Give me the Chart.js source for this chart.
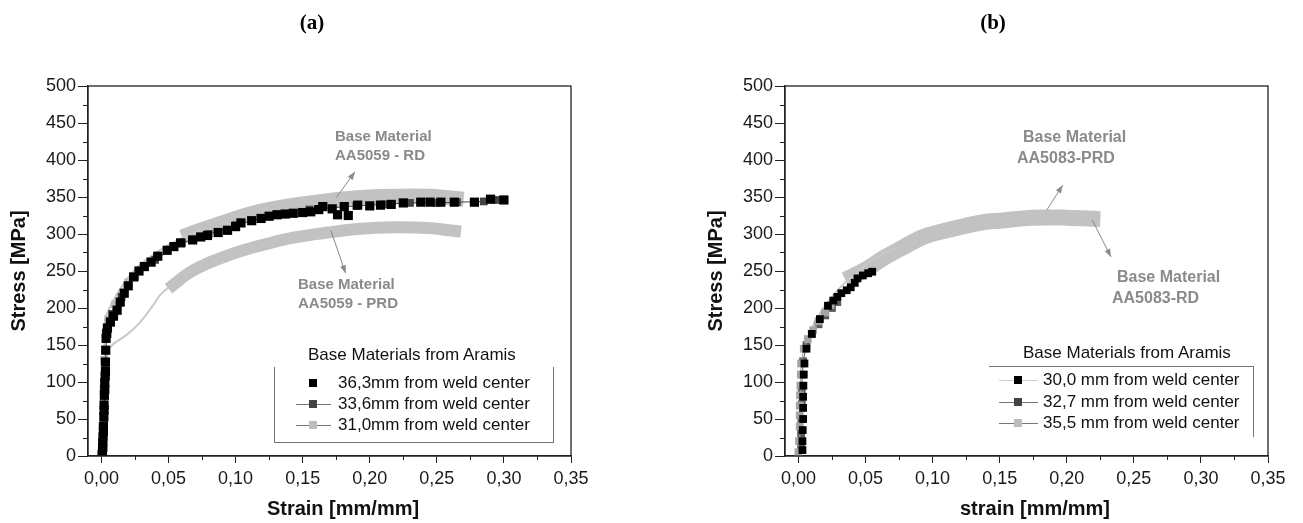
<!DOCTYPE html>
<html>
<head>
<meta charset="utf-8">
<script src="https://cdn.jsdelivr.net/npm/chart.js@4.4.1/dist/chart.umd.min.js"></script>
<style>
  body { margin: 0; background: #fff; width: 1303px; height: 523px; position: relative; overflow: hidden;
         font-family: "Liberation Sans", Arial, sans-serif; }
  canvas { position: absolute; top: 0; }
  .abs { position: absolute; white-space: nowrap; }
  .ptitle { font-family: "Liberation Serif", "Times New Roman", serif; font-weight: bold; font-size: 21px; line-height: 24px; transform: translateX(-50%); }
  .xtitle { font-weight: bold; font-size: 20px; line-height: 24px; color: #111; transform: translateX(-50%); }
  .note { font-weight: bold; color: #8a8a8a; }
  .leg { font-size: 17px; line-height: 20px; color: #111; }
</style>
</head>
<body>
<canvas id="chartA" width="606" height="523" style="left:0px"></canvas>
<canvas id="chartB" width="606" height="523" style="left:697px"></canvas>

<script>
// axis ticks (shared by both panels)
const xTicks = [0, 0.05, 0.10, 0.15, 0.20, 0.25, 0.30, 0.35];
const xMinor = [0.025, 0.075, 0.125, 0.175, 0.225, 0.275, 0.325];
const yTicks = [0, 50, 100, 150, 200, 250, 300, 350, 400, 450, 500];
const yMinor = [25, 75, 125, 175, 225, 275, 325, 375, 425, 475];

// ---- panel (a) : AA5059 ----
const a_363 = [[0.0005,2],[0.0008,6],[0.001,12],[0.001,18],[0.0012,26],[0.0015,33],[0.0015,40],[0.0018,53],
  [0.002,62],[0.002,69],[0.0022,82],[0.0025,90],[0.0025,99],[0.0028,108],[0.003,114],[0.003,127],[0.0032,143],
  [0.0035,159],[0.004,166],[0.0045,173],[0.0067,181],[0.009,189],[0.0117,197],[0.014,208],[0.017,220],[0.020,230],
  [0.024,242],[0.028,250],[0.032,256],[0.037,262],[0.042,270],[0.049,278],[0.054,283],[0.059,288],[0.068,292],
  [0.074,296],[0.079,298],[0.087,302],[0.094,305],[0.100,310],[0.104,315],[0.112,318],[0.119,321],[0.125,324],
  [0.131,326],[0.137,327],[0.143,328],[0.150,329],[0.156,330],[0.162,333],[0.165,337],[0.172,334],[0.176,326],
  [0.181,337],[0.184,325],[0.191,339],[0.200,338],[0.208,339],[0.216,340],[0.225,342],[0.238,343],[0.245,343],
  [0.253,343],[0.263,343],[0.278,343],[0.290,347],[0.300,346]];
const a_336 = [[0.001,0],[0.002,50],[0.003,120],[0.004,170],[0.008,192],[0.015,215],[0.025,242],[0.040,265],
  [0.060,288],[0.080,300],[0.100,312],[0.130,326],[0.155,333],[0.190,338],[0.210,340],[0.230,342],[0.250,342],
  [0.265,343],[0.285,344],[0.295,346]];
const a_310 = [[0.0005,0],[0.001,40],[0.0015,90],[0.002,130],[0.003,165],[0.005,185],[0.010,205],[0.020,235]];
const a_rdBand = [[0.060,296],[0.075,306],[0.090,315],[0.105,324],[0.119,331],[0.140,338],[0.169,345],
  [0.190,349],[0.218,351],[0.245,351],[0.270,347]];
const a_rdLine = [[0.002,150],[0.003,185],[0.006,200],[0.012,220],[0.024,250],[0.037,270],[0.050,285],
  [0.064,298],[0.075,306]];
const a_prdBand = [[0.050,226],[0.057,236],[0.064,246],[0.074,256],[0.084,264],[0.104,277],[0.124,287],
  [0.143,295],[0.169,302],[0.193,307],[0.218,309],[0.243,308],[0.268,303]];
const a_prdLine = [[0.004,125],[0.005,140],[0.008,150],[0.019,164],[0.029,181],[0.039,205],[0.044,218],[0.050,228]];
const a_arrows = [[0.175,349,0.189,384],[0.171,305,0.182,247]];
const a_labels = ['36,3mm from weld center', '33,6mm from weld center', '31,0mm from weld center'];

// ---- panel (b) : AA5083 ----
const b_300 = [[0.003,8],[0.003,20],[0.0032,35],[0.0035,50],[0.0035,65],[0.0035,80],[0.0037,95],[0.004,110],
  [0.0045,125],[0.006,145],[0.010,165],[0.016,185],[0.022,203],[0.026,210],[0.029,215],[0.032,220],[0.036,224],
  [0.039,228],[0.042,234],[0.044,240],[0.048,244],[0.052,247],[0.055,249]];
const b_327 = [[0.002,10],[0.002,30],[0.0022,50],[0.0025,70],[0.0025,90],[0.003,110],[0.0035,128],[0.006,150],
  [0.010,165],[0.015,178],[0.020,190],[0.025,200],[0.029,208]];
const b_355 = [[0.0,5],[0.0005,20],[0.001,40],[0.001,55],[0.001,68],[0.0012,82],[0.0015,95],[0.0018,110],
  [0.002,125],[0.004,145],[0.007,158],[0.011,170],[0.015,182],[0.020,194],[0.024,204]];
const b_band = [[0.035,238],[0.045,247],[0.052,254],[0.064,268],[0.076,280],[0.093,296],[0.113,306],
  [0.138,316],[0.150,318],[0.175,322],[0.200,322],[0.225,320]];
const b_line = [[0.008,165],[0.015,190],[0.025,215],[0.035,235],[0.045,250],[0.052,261],[0.064,274],[0.075,282]];
const b_arrows = [[0.185,332,0.197,366],[0.219,319,0.233,269]];
const b_labels = ['30,0 mm from weld center', '32,7 mm from weld center', '35,5 mm from weld center'];

const seriesColors = ['#000000', '#444444', '#bdbdbd'];
const FONT = '"Liberation Sans", Arial, sans-serif';

function pts(arr) { return arr.map(p => ({ x: p[0], y: p[1] })); }

function squares(label, data, color, r, line) {
  return { label, data: pts(data), showLine: line, borderColor: color, borderWidth: 1,
    backgroundColor: color, pointBackgroundColor: color, pointBorderColor: color, pointBorderWidth: 0,
    pointStyle: 'rect', pointRadius: r, pointHoverRadius: r };
}
function band(data, w, color) {
  return { label: '', data: pts(data), showLine: true, borderColor: color, borderWidth: w, pointRadius: 0,
    tension: 0.4, borderCapStyle: 'butt', borderJoinStyle: 'round', fill: false };
}

// box round the plot, minor ticks, annotation arrows
const extras = {
  id: 'extras',
  afterDraw(chart, args, opts) {
    const { ctx, chartArea: a, scales: { x, y } } = chart;
    ctx.save();
    ctx.strokeStyle = '#222';
    ctx.lineWidth = 1.3;
    ctx.strokeRect(a.left, a.top, a.right - a.left, a.bottom - a.top);
    ctx.lineWidth = 1;
    ctx.beginPath();
    xMinor.forEach(v => { const p = Math.round(x.getPixelForValue(v)) + 0.5; ctx.moveTo(p, a.bottom); ctx.lineTo(p, a.bottom + 4); });
    yMinor.forEach(v => { const p = Math.round(y.getPixelForValue(v)) + 0.5; ctx.moveTo(a.left, p); ctx.lineTo(a.left - 5, p); });
    ctx.stroke();
    ctx.strokeStyle = '#8a8a8a';
    ctx.fillStyle = '#8a8a8a';
    (opts.arrows || []).forEach(r => {
      const x1 = x.getPixelForValue(r[0]), y1 = y.getPixelForValue(r[1]);
      const x2 = x.getPixelForValue(r[2]), y2 = y.getPixelForValue(r[3]);
      const ang = Math.atan2(y2 - y1, x2 - x1);
      ctx.beginPath(); ctx.moveTo(x1, y1); ctx.lineTo(x2, y2); ctx.stroke();
      ctx.beginPath();
      ctx.moveTo(x2, y2);
      ctx.lineTo(x2 - 8 * Math.cos(ang) + 3 * Math.sin(ang), y2 - 8 * Math.sin(ang) - 3 * Math.cos(ang));
      ctx.lineTo(x2 - 8 * Math.cos(ang) - 3 * Math.sin(ang), y2 - 8 * Math.sin(ang) + 3 * Math.cos(ang));
      ctx.closePath(); ctx.fill();
    });
    ctx.restore();
  }
};

function makeChart(id, datasets, arrows) {
  return new Chart(document.getElementById(id), {
    type: 'scatter',
    data: { datasets },
    plugins: [extras],
    options: {
      responsive: false,
      animation: false,
      layout: { padding: { top: 86, right: 35, left: 0, bottom: 0 } },
      plugins: { legend: { display: false }, tooltip: { enabled: false }, extras: { arrows } },
      scales: {
        x: {
          type: 'linear', min: -0.01, max: 0.35,
          afterBuildTicks: s => { s.ticks = xTicks.map(v => ({ value: v })); },
          afterFit: s => { s.height = 67; },
          grid: { drawOnChartArea: false, tickLength: 7, color: '#222', tickColor: '#222' },
          border: { color: '#222', width: 1.3 },
          ticks: { font: { family: FONT, size: 18 }, color: '#1a1a1a', padding: 5, maxRotation: 0, autoSkip: false,
                   callback: v => v.toFixed(2).replace('.', ',') }
        },
        y: {
          type: 'linear', min: 0, max: 500,
          afterBuildTicks: s => { s.ticks = yTicks.map(v => ({ value: v })); },
          afterFit: s => { s.width = 88; },
          grid: { drawOnChartArea: false, tickLength: 10, color: '#222', tickColor: '#222' },
          border: { color: '#222', width: 1.3 },
          ticks: { font: { family: FONT, size: 18 }, color: '#1a1a1a', padding: 2, autoSkip: false },
          title: { display: true, text: 'Stress [MPa]', color: '#111', font: { family: FONT, size: 20, weight: 'bold' },
                   padding: { top: 7, bottom: 0 } }
        }
      }
    }
  });
}

makeChart('chartA', [
  squares(a_labels[0], a_363, seriesColors[0], 6.5, false),
  squares(a_labels[1], a_336, seriesColors[1], 5.5, true),
  squares(a_labels[2], a_310, seriesColors[2], 5.5, true),
  band(a_rdLine, 2, '#c8c8c8'),
  band(a_rdBand, 15, '#c2c2c2'),
  band(a_prdLine, 2, '#c8c8c8'),
  band(a_prdBand, 12, '#c2c2c2')
], a_arrows);

makeChart('chartB', [
  squares(b_labels[0], b_300, seriesColors[0], 5.5, false),
  squares(b_labels[2], b_355, '#a4a4a4', 5.5, true),
  squares(b_labels[1], b_327, '#5a5a5a', 5.5, true),
  band(b_line, 2, '#c8c8c8'),
  band(b_band, 16, '#c2c2c2')
], b_arrows);

// text overlays: panel titles, x titles, notes and legends
function addText(cls, text, left, top, style) {
  const d = document.createElement('div');
  d.className = 'abs ' + cls;
  d.textContent = text;
  d.style.left = left + 'px';
  d.style.top = top + 'px';
  if (style) Object.assign(d.style, style);
  document.body.appendChild(d);
  return d;
}
function addBox(left, top, w, h, style) {
  const d = document.createElement('div');
  d.className = 'abs';
  Object.assign(d.style, { left: left + 'px', top: top + 'px', width: w + 'px', height: h + 'px', boxSizing: 'border-box' }, style);
  document.body.appendChild(d);
}

addText('ptitle', '(a)', 312, 10);
addText('ptitle', '(b)', 993, 10);
addText('xtitle', 'Strain [mm/mm]', 343, 496);
addText('xtitle', 'strain [mm/mm]', 1035, 496);

addText('note', 'Base Material', 335, 127, { fontSize: '15px', lineHeight: '18px' });
addText('note', 'AA5059 - RD', 335, 146, { fontSize: '15px', lineHeight: '18px' });
addText('note', 'Base Material', 298, 275, { fontSize: '15px', lineHeight: '18px' });
addText('note', 'AA5059 - PRD', 298, 294, { fontSize: '15px', lineHeight: '18px' });
addText('note', 'Base Material', 1023, 127, { fontSize: '16px', lineHeight: '20px' });
addText('note', 'AA5083-PRD', 1017, 148, { fontSize: '16px', lineHeight: '20px' });
addText('note', 'Base Material', 1117, 267, { fontSize: '16px', lineHeight: '20px' });
addText('note', 'AA5083-RD', 1112, 288, { fontSize: '16px', lineHeight: '20px' });

// legend (a)
addText('leg', 'Base Materials from Aramis', 308, 345);
addBox(274, 367, 280, 76, { borderLeft: '1px solid #777', borderRight: '1px solid #777', borderBottom: '1px solid #777' });
[383, 404, 425].forEach((cy, i) => {
  if (i > 0) addBox(296, cy, 35, 1, { background: '#777' });
  addBox(309, cy - 4, 8, 8, { background: seriesColors[i] });
  addText('leg', a_labels[i], 338, cy - 10);
});

// legend (b)
addText('leg', 'Base Materials from Aramis', 1023, 343);
addBox(989, 366, 265, 1, { background: '#777' });
addBox(1253, 366, 1, 71, { background: '#777' });
const bLineColors = ['#d0d0d0', '#777', '#777'];
[380, 402, 423].forEach((cy, i) => {
  addBox(999, cy, 39, 1, { background: bLineColors[i] });
  addBox(1014, cy - 4, 8, 8, { background: seriesColors[i] });
  addText('leg', b_labels[i], 1043, cy - 10);
});
</script>
</body>
</html>
